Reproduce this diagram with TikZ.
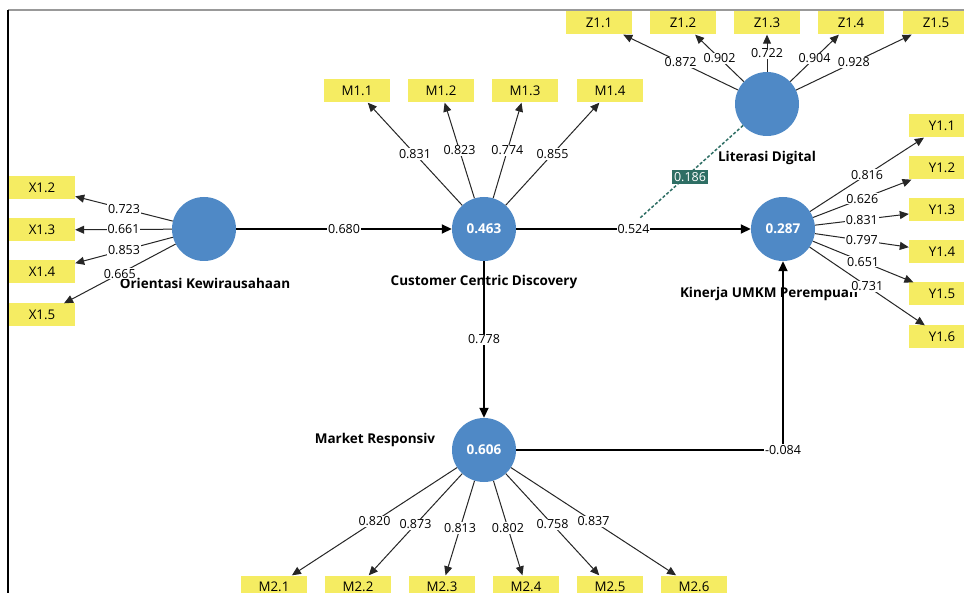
\documentclass[tikz,border=0pt]{standalone}
\usepackage{fontspec}
\setmainfont{Open Sans}
\usetikzlibrary{arrows.meta,calc}
\definecolor{lvc}{RGB}{79,137,198}
\definecolor{indc}{RGB}{245,236,98}
\definecolor{tealc}{RGB}{46,110,100}
\begin{document}
\begin{tikzpicture}[x=1pt,y=-1pt,
 lv/.style={circle,fill=lvc,minimum size=64pt,inner sep=0pt,text=white,font=\bfseries\fontsize{13.5}{15}\selectfont},
 indbox/.style={rectangle,fill=indc,minimum width=66pt,minimum height=23pt,inner sep=0pt,font=\fontsize{13.3}{15}\selectfont},
 load/.style={draw=black!85,line width=1pt,-{Triangle[length=9pt,width=8pt]}},
 struct/.style={draw=black,line width=1.8pt,-{Triangle[length=10pt,width=9pt]}},
 val/.style={fill=white,inner sep=1pt,font=\fontsize{12.5}{14}\selectfont},
 lvname/.style={font=\bfseries\fontsize{13.5}{15}\selectfont},
]
\useasboundingbox (0,0) rectangle (964,593);
\clip (0,0) rectangle (964,593);
\fill[white] (0,0) rectangle (964,593);
% frame
\draw[gray!80,line width=2pt] (8,10) -- (964,10);
\draw[black,line width=1.5pt] (8,10) -- (8,593);

% latent variable names
\node[lvname] (nok) at (205,283) {Orientasi Kewirausahaan};
\node[lvname] (nccd) at (484,282) {Customer Centric Discovery};
\node[lvname] (nld) at (767,158) {Literasi Digital};
\node[lvname] (nkin) at (769,294) {Kinerja UMKM Perempuan};
\node[lvname] (nmr) at (375,440) {Market Responsiv};

% latent variables
\node[lv] (ok) at (204,229) {};
\node[lv] (ccd) at (484,229) {0.463};
\node[lv] (ld) at (767,104) {};
\node[lv] (kin) at (783,229) {0.287};
\node[lv] (mr) at (484,450) {0.606};

% indicators
\node[indbox] (x12) at (42,188) {X1.2};
\node[indbox] (x13) at (42,230) {X1.3};
\node[indbox] (x14) at (42,272) {X1.4};
\node[indbox] (x15) at (42,315) {X1.5};

\node[indbox] (m11) at (357,91) {M1.1};
\node[indbox] (m12) at (441,91) {M1.2};
\node[indbox] (m13) at (525,91) {M1.3};
\node[indbox] (m14) at (610,91) {M1.4};

\node[indbox] (z11) at (599,23) {Z1.1};
\node[indbox] (z12) at (683,23) {Z1.2};
\node[indbox] (z13) at (767,23) {Z1.3};
\node[indbox] (z14) at (851,23) {Z1.4};
\node[indbox] (z15) at (936,23) {Z1.5};

\node[indbox] (y11) at (942,126) {Y1.1};
\node[indbox] (y12) at (942,168) {Y1.2};
\node[indbox] (y13) at (942,210) {Y1.3};
\node[indbox] (y14) at (942,252) {Y1.4};
\node[indbox] (y15) at (942,294) {Y1.5};
\node[indbox] (y16) at (942,337) {Y1.6};

\node[indbox] (m21) at (274,587) {M2.1};
\node[indbox] (m22) at (358,587) {M2.2};
\node[indbox] (m23) at (442,587) {M2.3};
\node[indbox] (m24) at (526,587) {M2.4};
\node[indbox] (m25) at (610,587) {M2.5};
\node[indbox] (m26) at (694,587) {M2.6};

% loadings
\draw[load] (ok) -- (x12) node[val,midway] {0.723};
\draw[load] (ok) -- (x13) node[val,midway] {0.661};
\draw[load] (ok) -- (x14) node[val,midway] {0.853};
\draw[load] (ok) -- (x15) node[val,midway] {0.665};

\draw[load] (ccd) -- (m11) node[val,midway] {0.831};
\draw[load] (ccd) -- (m12) node[val,midway] {0.823};
\draw[load] (ccd) -- (m13) node[val,midway] {0.774};
\draw[load] (ccd) -- (m14) node[val,midway] {0.855};

\draw[load] (ld) -- (z11) node[val,midway] {0.872};
\draw[load] (ld) -- (z12) node[val,midway] {0.902};
\draw[load] (ld) -- (z13) node[val,midway] {0.722};
\draw[load] (ld) -- (z14) node[val,midway] {0.904};
\draw[load] (ld) -- (z15) node[val,midway] {0.928};

\draw[load] (kin) -- (y11) node[val,midway] {0.816};
\draw[load] (kin) -- (y12) node[val,midway] {0.626};
\draw[load] (kin) -- (y13) node[val,midway] {0.831};
\draw[load] (kin) -- (y14) node[val,midway] {0.797};
\draw[load] (kin) -- (y15) node[val,midway] {0.651};
\draw[load] (kin) -- (y16) node[val,midway] {0.731};

\draw[load] (mr) -- (m21) node[val,midway] {0.820};
\draw[load] (mr) -- (m22) node[val,midway] {0.873};
\draw[load] (mr) -- (m23) node[val,midway] {0.813};
\draw[load] (mr) -- (m24) node[val,midway] {0.802};
\draw[load] (mr) -- (m25) node[val,midway] {0.758};
\draw[load] (mr) -- (m26) node[val,midway] {0.837};

% structural paths
\draw[struct] (ok) -- (ccd) node[val,midway] {0.680};
\draw[struct] (ccd) -- (kin) node[val,midway] {0.524};
\draw[struct] (ccd) -- (mr) node[val,midway] {0.778};
\draw[struct] (mr.east) -| (kin.south) node[val,pos=0.5] {-0.084};

% moderating effect
\coordinate (modend) at (640,218);
\draw[tealc,line width=1.5pt,dash pattern=on 3pt off 2pt] (ld) -- (modend);
\node[fill=tealc,text=white,inner sep=2.5pt,font=\fontsize{12.5}{14}\selectfont] (mod) at (690,177) {0.186};
\end{tikzpicture}
\end{document}
